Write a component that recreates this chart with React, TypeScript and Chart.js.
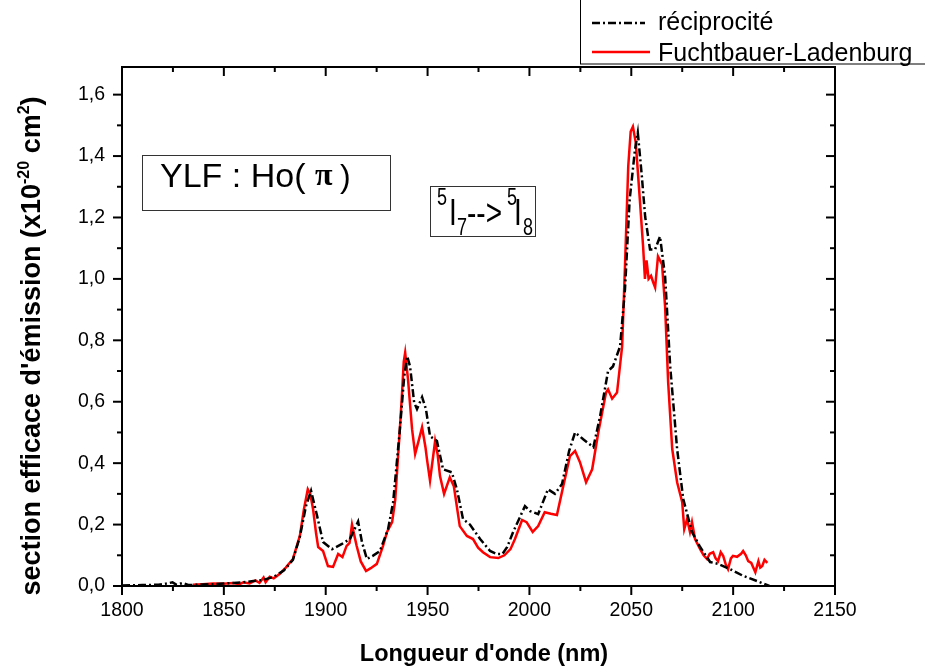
import { useEffect, useRef } from "react";
import { Chart, registerables } from "chart.js";

Chart.register(...registerables);

const FONT = '"Liberation Sans", Arial, Helvetica, sans-serif';

const X_MIN = 1800;
const X_MAX = 2150;
const Y_MIN = 0;
const Y_MAX = 1.69;
const X_TICKS = [1800, 1850, 1900, 1950, 2000, 2050, 2100, 2150];
const Y_TICKS = [0, 0.2, 0.4, 0.6, 0.8, 1.0, 1.2, 1.4, 1.6];

const SERIES_RECIP = "réciprocité";
const SERIES_FL = "Fuchtbauer-Ladenburg";

// réciprocité (black dash-dot)
const recipWl = [
  1800, 1809.9, 1817.9, 1821.8, 1824.8, 1826.8, 1829.8, 1832.8, 1839.7, 1844.7, 1849.7, 1854.6, 1859.6,
  1864.5, 1869.5, 1874.5, 1879.4, 1883.9, 1887.3, 1890.3, 1892.8, 1895.7, 1898.7, 1903.1, 1908.0, 1911.9,
  1915.9, 1917.8, 1920.2, 1923.1, 1926.6, 1930.6, 1933.1, 1936.4, 1938.5, 1940.0, 1941.4, 1943.4, 1944.8,
  1947.3, 1949.2, 1951.2, 1954.6, 1957.6, 1961.9, 1964.4, 1967.4, 1970.8, 1975.8, 1980.7, 1984.1, 1986.7,
  1989.1, 1992.0, 1997.8, 2000.3, 2004.3, 2009.1, 2012.5, 2016.0, 2019.5, 2022.4, 2026.4, 2031.4, 2034.7,
  2038.6, 2041.0, 2044.5, 2046.9, 2049.2, 2051.8, 2053.2, 2055.2, 2056.8, 2059.2, 2061.7, 2064.1, 2066.6,
  2069.1, 2072.5, 2075.5, 2079.8, 2083.8, 2088.7, 2092.6, 2098.5, 2104.9, 2111.8, 2117.8,
];
const recipVal = [
  0.002, 0.003, 0.004, 0.008, 0.012, 0.004, 0.01, 0.003, 0.005, 0.006, 0.008, 0.01, 0.012,
  0.016, 0.02, 0.03, 0.05, 0.085, 0.16, 0.26, 0.31, 0.23, 0.143, 0.12, 0.137, 0.153,
  0.21, 0.143, 0.088, 0.098, 0.114, 0.185, 0.273, 0.51, 0.68, 0.748, 0.715, 0.598, 0.576,
  0.615, 0.576, 0.488, 0.472, 0.38, 0.37, 0.315, 0.218, 0.2, 0.153, 0.114, 0.104, 0.104,
  0.127, 0.176, 0.26, 0.244, 0.234, 0.315, 0.3, 0.332, 0.44, 0.5, 0.478, 0.452, 0.553,
  0.7, 0.715, 0.78, 0.966, 1.258, 1.42, 1.476, 1.333, 1.203, 1.096, 1.096, 1.138, 1.008,
  0.715, 0.446, 0.283, 0.176, 0.127, 0.078, 0.072, 0.055, 0.033, 0.016, 0.0,
];

// Fuchtbauer-Ladenburg (red)
const flWl = [
  1834.8, 1839.7, 1844.7, 1849.7, 1854.6, 1857.6, 1859.6, 1862.6, 1865.5, 1867.5, 1869.5, 1870.5, 1872.5,
  1874.5, 1877.5, 1880.4, 1883.9, 1887.3, 1889.3, 1891.2, 1892.4, 1893.8, 1895.3, 1896.3, 1898.7, 1901.1,
  1903.6, 1906.1, 1908.2, 1910.2, 1911.7, 1912.9, 1914.2, 1915.2, 1917.2, 1919.8, 1922.1, 1925.1, 1928.1,
  1930.1, 1932.6, 1934.1, 1935.0, 1936.3, 1937.4, 1938.3, 1939.0, 1940.4, 1942.4, 1943.9, 1945.5, 1947.3,
  1949.0, 1949.7, 1951.2, 1953.7, 1954.9, 1956.1, 1958.1, 1960.9, 1962.9, 1965.8, 1969.3, 1972.3, 1974.8,
  1977.2, 1980.7, 1984.7, 1987.7, 1990.7, 1992.9, 1996.4, 1998.6, 2001.6, 2004.3, 2007.5, 2010.5, 2013.5,
  2016.5, 2019.9, 2022.4, 2024.8, 2027.8, 2030.8, 2033.8, 2037.6, 2038.6, 2040.6, 2043.0, 2045.5, 2046.9,
  2048.5, 2049.7, 2050.8, 2052.2, 2054.2, 2055.8, 2056.7, 2057.5, 2058.5, 2059.7, 2060.7, 2061.7, 2063.1,
  2065.1, 2066.6, 2068.1, 2070.1, 2072.5, 2075.0, 2076.0, 2077.4, 2078.8, 2079.8, 2081.3, 2083.8, 2085.5,
  2087.2, 2088.5, 2090.2, 2091.4, 2092.6, 2093.9, 2095.1, 2096.4, 2097.5, 2098.9, 2099.9, 2101.9, 2103.9,
  2104.9, 2106.2, 2107.4, 2108.9, 2110.9, 2112.4, 2113.3, 2114.3, 2115.4, 2116.8,
];
const flVal = [
  0.004, 0.006, 0.008, 0.007, 0.01, 0.006, 0.012, 0.008, 0.018, 0.01, 0.028, 0.012, 0.03,
  0.025, 0.04, 0.06, 0.088, 0.163, 0.25, 0.315, 0.3, 0.25, 0.17, 0.127, 0.114, 0.065,
  0.062, 0.104, 0.094, 0.13, 0.14, 0.2, 0.16, 0.13, 0.08, 0.049, 0.058, 0.072, 0.13,
  0.176, 0.208, 0.28, 0.37, 0.5, 0.62, 0.73, 0.76, 0.673, 0.51, 0.43, 0.47, 0.517,
  0.45, 0.413, 0.343, 0.472, 0.43, 0.358, 0.3, 0.354, 0.325, 0.195, 0.163, 0.153, 0.125,
  0.11, 0.094, 0.091, 0.1, 0.12, 0.153, 0.215, 0.208, 0.176, 0.195, 0.24, 0.235, 0.231,
  0.322, 0.423, 0.44, 0.403, 0.338, 0.38, 0.5, 0.63, 0.64, 0.61, 0.63, 0.78, 1.04,
  1.366, 1.48, 1.496, 1.444, 1.258, 1.106, 1.0, 1.06, 1.0, 1.01, 0.99, 0.972, 1.073,
  1.047, 0.91, 0.663, 0.446, 0.338, 0.273, 0.185, 0.218, 0.176, 0.208, 0.153, 0.12, 0.1,
  0.088, 0.105, 0.11, 0.09, 0.081, 0.11, 0.098, 0.07, 0.055, 0.09, 0.098, 0.095, 0.105,
  0.114, 0.1, 0.081, 0.075, 0.045, 0.081, 0.06, 0.065, 0.085, 0.075,
];

const RECIP_DASH = [8, 3, 2, 3];

const decorPlugin = {
  id: "decor",
  afterDraw(chart: any) {
    const { ctx, chartArea: a, scales } = chart;
    const xs = scales.x;
    const ys = scales.y;
    ctx.save();
    ctx.strokeStyle = "#000";
    ctx.lineWidth = 2;
    ctx.setLineDash([]);
    ctx.strokeRect(a.left, a.top, a.right - a.left, a.bottom - a.top);
    const seg = (x1: number, y1: number, x2: number, y2: number) => {
      ctx.beginPath();
      ctx.moveTo(x1, y1);
      ctx.lineTo(x2, y2);
      ctx.stroke();
    };
    for (let v = X_MIN; v <= X_MAX; v += 25) {
      const px = xs.getPixelForValue(v);
      const L = v % 50 === 0 ? 9 : 5;
      seg(px, a.bottom, px, a.bottom + L);
      seg(px, a.top, px, a.top + L);
    }
    for (let i = 0; i <= 16; i++) {
      const py = ys.getPixelForValue(i * 0.1);
      const L = i % 2 === 0 ? 9 : 5;
      seg(a.left - L, py, a.left, py);
      seg(a.right - L, py, a.right, py);
    }

    ctx.fillStyle = "#000";
    // x title
    ctx.font = `bold 23.5px ${FONT}`;
    ctx.textAlign = "center";
    ctx.textBaseline = "alphabetic";
    ctx.fillText("Longueur d'onde (nm)", 484, 661);

    // y title with superscripts
    const big = `bold 27px ${FONT}`;
    const small = `bold 16px ${FONT}`;
    const parts: [string, string, number][] = [
      ["section efficace d'émission (x10", big, 0],
      ["-20", small, -11],
      [" cm", big, 0],
      ["2", small, -11],
      [")", big, 0],
    ];
    ctx.textAlign = "left";
    let total = 0;
    for (const [t, f] of parts) {
      ctx.font = f;
      total += ctx.measureText(t).width;
    }
    ctx.save();
    ctx.translate(40, 346);
    ctx.rotate(-Math.PI / 2);
    let cx = -total / 2;
    for (const [t, f, dy] of parts) {
      ctx.font = f;
      ctx.fillText(t, cx, dy);
      cx += ctx.measureText(t).width;
    }
    ctx.restore();

    // annotation box 1
    ctx.lineWidth = 1;
    ctx.strokeStyle = "#333";
    ctx.strokeRect(142.5, 155.5, 248, 55);
    ctx.font = `34px ${FONT}`;
    ctx.fillText("YLF : Ho(", 160, 187);
    ctx.font = `bold 32px "Liberation Serif", "DejaVu Serif", serif`;
    ctx.fillText("π", 315, 185);
    ctx.font = `32px ${FONT}`;
    ctx.fillText(")", 340, 187);

    // annotation box 2
    ctx.strokeRect(430.5, 186.5, 105, 50);
    const stretch = (t: string, font: string, x: number, base: number) => {
      ctx.save();
      ctx.translate(x, base);
      ctx.scale(1, 1.3);
      ctx.font = font;
      ctx.fillText(t, 0, 0);
      ctx.restore();
    };
    const mainF = `28px ${FONT}`;
    const subF = `18px ${FONT}`;
    stretch("5", subF, 437, 205);
    stretch("I", mainF, 449, 225);
    stretch("7", subF, 457, 235);
    stretch("-->", mainF, 467, 225);
    stretch("5", subF, 507, 205);
    stretch("I", mainF, 514, 225);
    stretch("8", subF, 523, 235);

    // legend
    ctx.fillStyle = "#fff";
    ctx.fillRect(580, -2, 360, 66);
    ctx.strokeStyle = "#000";
    ctx.lineWidth = 1;
    ctx.strokeRect(580.5, -2, 360, 66);
    ctx.lineWidth = 2.5;
    ctx.setLineDash(RECIP_DASH);
    seg(592, 23, 645, 23);
    ctx.setLineDash([]);
    ctx.strokeStyle = "#ff0000";
    seg(592, 52, 650, 52);
    ctx.fillStyle = "#000";
    ctx.font = `25px ${FONT}`;
    ctx.fillText(SERIES_RECIP, 658, 30);
    ctx.fillText(SERIES_FL, 658, 61);
    ctx.restore();
  },
};

export default function App() {
  const ref = useRef<HTMLCanvasElement | null>(null);
  useEffect(() => {
    if (!ref.current) return;
    const chart = new Chart(ref.current, {
      type: "line",
      data: {
        datasets: [
          {
            label: SERIES_RECIP,
            data: recipWl.map((x, i) => ({ x, y: recipVal[i] })),
            borderColor: "#000",
            borderWidth: 2.5,
            borderDash: RECIP_DASH,
            pointRadius: 0,
            tension: 0,
            fill: false,
          },
          {
            label: SERIES_FL,
            data: flWl.map((x, i) => ({ x, y: flVal[i] })),
            borderColor: "#ff0000",
            borderWidth: 2.5,
            pointRadius: 0,
            tension: 0,
            fill: false,
          },
        ],
      },
      options: {
        responsive: false,
        animation: false,
        layout: { padding: { top: 67, right: 90, left: 0, bottom: 0 } },
        plugins: { legend: { display: false }, tooltip: { enabled: false } },
        scales: {
          x: {
            type: "linear",
            min: X_MIN,
            max: X_MAX,
            afterBuildTicks: (s: any) => {
              s.ticks = X_TICKS.map((v) => ({ value: v }));
            },
            afterFit: (s: any) => {
              s.height = 84;
            },
            grid: { display: false, drawTicks: false },
            border: { display: false },
            ticks: {
              padding: 13,
              color: "#000",
              font: { family: FONT, size: 19.5 },
              maxRotation: 0,
              callback: (v: any) => String(v),
            },
          },
          y: {
            type: "linear",
            min: Y_MIN,
            max: Y_MAX,
            afterBuildTicks: (s: any) => {
              s.ticks = Y_TICKS.map((v) => ({ value: v }));
            },
            afterFit: (s: any) => {
              s.width = 122;
            },
            grid: { display: false, drawTicks: false },
            border: { display: false },
            ticks: {
              padding: 17,
              color: "#000",
              font: { family: FONT, size: 19.5 },
              callback: (v: any) => Number(v).toFixed(1).replace(".", ","),
            },
          },
        },
      },
      plugins: [decorPlugin],
    });
    return () => chart.destroy();
  }, []);
  return (
    <div style={{ position: "absolute", left: 0, top: 0, width: 925, height: 670, background: "#fff" }}>
      <canvas ref={ref} width={925} height={670} style={{ display: "block" }} />
    </div>
  );
}
